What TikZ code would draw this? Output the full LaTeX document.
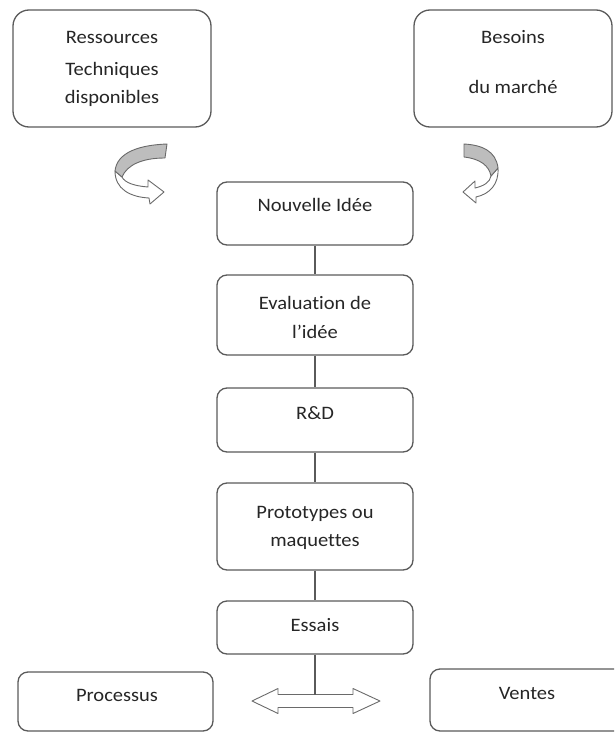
\documentclass[tikz,border=0pt]{standalone}
\usepackage{fontspec}
\setmainfont{Carlito}[FakeStretch=1.08, Ligatures={NoCommon}]
\definecolor{boxc}{HTML}{5A5A5A}
\definecolor{textc}{HTML}{262626}
\definecolor{arrc}{HTML}{6A6A6A}
\definecolor{grayband}{HTML}{BDBDBD}
\begin{document}
\begin{tikzpicture}[x=1pt,y=-1pt,
  box/.style={draw=boxc, line width=1.3pt, rounded corners=10pt, fill=white},
  bigbox/.style={box, rounded corners=16pt, minimum width=198pt, minimum height=117pt},
  colbox/.style={box, minimum width=196pt},
  txt/.style={anchor=base, font=\fontsize{19}{22}\selectfont, text=textc, inner sep=0pt},
  link/.style={draw=boxc, line width=1.2pt},
  curv/.style={draw=arrc, line width=0.9pt, line join=round}]
\useasboundingbox (0,0) rectangle (614,733);
\clip (0,0) rectangle (614,733);

% top boxes
\node[bigbox] (res) at (112,68.5) {};
\node[txt] (res1) at (112,44) {Ressources};
\node[txt] (res2) at (112,76) {Techniques};
\node[txt] (res3) at (112,104) {disponibles};

\node[bigbox] (bes) at (513,68.5) {};
\node[txt] (bes1) at (513,44) {Besoins};
\node[txt] (bes2) at (513,94) {du marché};

% curved arrows (left)
\draw[curv, fill=white] (115,171) .. controls (115,189) and (130,197) .. (149,198)
  -- (150,204) -- (164,192) -- (148,180) -- (148,187)
  .. controls (135,186) and (125,183) .. (122,177) -- cycle;
\draw[curv, fill=grayband] (167,144) -- (165,158)
  .. controls (142,158) and (127,165) .. (122,177)
  -- (115,171) .. controls (117,152) and (140,145) .. (167,144) -- cycle;

% curved arrows (right)
\draw[curv, fill=white] (498,168) .. controls (499,184) and (490,194) .. (476,197)
  -- (476,203) -- (463,192) -- (475,181) -- (475,188)
  .. controls (484,186) and (490,182) .. (491,176) -- cycle;
\draw[curv, fill=grayband] (464,144) -- (464,157)
  .. controls (481,159) and (489,166) .. (491,176)
  -- (498,168) .. controls (496,151) and (482,145) .. (464,144) -- cycle;

% central column
\node[colbox, minimum height=63pt] (n1) at (315,213.5) {};
\node[txt] (t1) at (315,211) {Nouvelle Idée};

\node[colbox, minimum height=80pt] (n2) at (315,315) {};
\node[txt] (t2a) at (315,309) {Evaluation de};
\node[txt] (t2b) at (315,338) {l’idée};

\node[colbox, minimum height=64pt] (n3) at (315,420) {};
\node[txt] (t3) at (315,419) {R\&D};

\node[colbox, minimum height=87pt] (n4) at (315,526.5) {};
\node[txt] (t4a) at (315,518) {Prototypes ou};
\node[txt] (t4b) at (315,546) {maquettes};

\node[colbox, minimum height=53pt] (n5) at (315,627.5) {};
\node[txt] (t5) at (315,631) {Essais};

\draw[link] (n1.south) -- (n2.north);
\draw[link] (n2.south) -- (n3.north);
\draw[link] (n3.south) -- (n4.north);
\draw[link] (n4.south) -- (n5.north);

% bottom boxes
\node[box, minimum width=195pt, minimum height=59pt] (proc) at (115.5,701.5) {};
\node[txt] (tp) at (117,701) {Processus};
\node[box, minimum width=194pt, minimum height=62pt] (vent) at (527,700) {};
\node[txt] (tv) at (527,699) {Ventes};

% double arrow
\coordinate (dtop) at (315,694.5);
\draw[curv, fill=white] (252,701) -- (278,688.5) -- (278,694.5) -- (353,694.5) -- (353,688.5)
  -- (380,701) -- (353,713.5) -- (353,707.5) -- (278,707.5) -- (278,713.5) -- cycle;
\draw[link] (n5.south) -- (dtop);
\end{tikzpicture}
\end{document}
